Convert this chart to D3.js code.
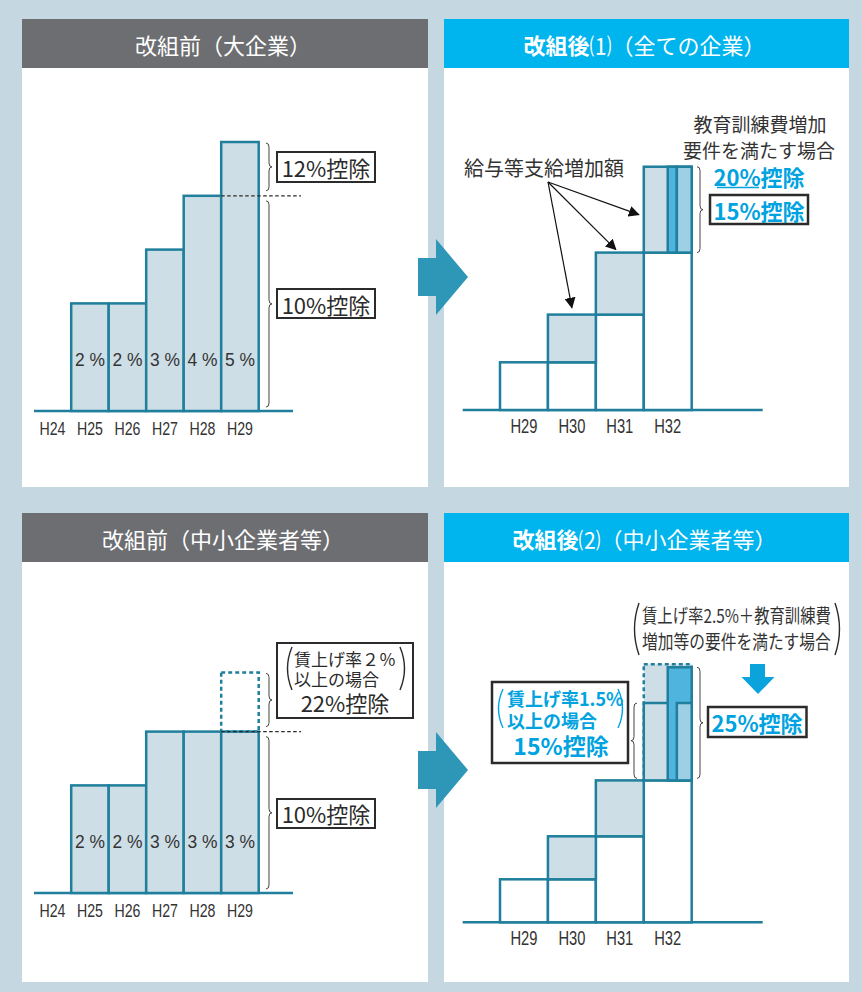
<!DOCTYPE html>
<html>
<head>
<meta charset="utf-8">
<script src="https://cdn.jsdelivr.net/npm/d3@7"></script>
<style>
  html, body { margin: 0; padding: 0; background: #c5d8e1; }
  svg { display: block; font-family: "Noto Sans CJK JP", "Noto Sans", sans-serif; }
</style>
</head>
<body>
<svg id="chart"></svg>
<script>
// ---- data ----
const beforeYears = ["H24", "H25", "H26", "H27", "H28", "H29"];
const largeRates = [0, 2, 2, 3, 4, 5];      // 改組前（大企業）
const smallRates = [0, 2, 2, 3, 3, 3];      // 改組前（中小企業者等）
const smallBonusTop = 4.1;                  // dashed 22% box on H29
const afterYears = ["H29", "H30", "H31", "H32"];
const afterLevels = [1, 2, 3.3, 5.1];       // wage level, each year
const afterSmallTop = 6.0;                  // dashed box on H32 (中小)

const W = 862, H = 992;
const teal = "#1f7f9c";
const fillLight = "#cddee6";
const stripDark = "#4fb5de";
const stripLight = "#9dcfe5";
const cyan = "#00a3df";
const ink = "#2b2b2b";

const svg = d3.select("#chart")
  .attr("width", W)
  .attr("height", H)
  .attr("viewBox", [0, 0, W, H]);

svg.append("rect").attr("width", W).attr("height", H).attr("fill", "#c5d8e1");

// ---- panels + headers ----
const panels = [
  { x: 22, y: 19, w: 406, h: 468, col: "#6d6e71", parts: [["改組前（大企業）", "normal"]] },
  { x: 444, y: 19, w: 405, h: 468, col: "#00b4ed", parts: [["改組後", "bold"], ["⑴", "normal"], ["（全ての企業）", "normal"]] },
  { x: 22, y: 513, w: 406, h: 469, col: "#6d6e71", parts: [["改組前（中小企業者等）", "normal"]] },
  { x: 444, y: 513, w: 405, h: 469, col: "#00b4ed", parts: [["改組後", "bold"], ["⑵", "normal"], ["（中小企業者等）", "normal"]] }
];

panels.forEach((p) => {
  svg.append("rect").attr("x", p.x).attr("y", p.y).attr("width", p.w).attr("height", p.h).attr("fill", "#fff");
  svg.append("rect").attr("x", p.x).attr("y", p.y).attr("width", p.w).attr("height", 49).attr("fill", p.col);
  const t = svg.append("text")
    .attr("x", p.x + p.w / 2 - 2)
    .attr("y", p.y + 25)
    .attr("text-anchor", "middle")
    .attr("dominant-baseline", "central")
    .attr("font-size", 22)
    .attr("fill", "#fff");
  p.parts.forEach(([s, wgt]) => t.append("tspan").attr("font-weight", wgt).text(s));
});

// big arrows between panels
[277, 770].forEach((cy) => {
  svg.append("path")
    .attr("d", `M418,${cy - 19}H436V${cy - 38}L468,${cy}L436,${cy + 38}V${cy + 19}H418Z`)
    .attr("fill", "#2e97b8");
});

// ---- helpers ----
function brace(g, x, y0, y1, dir = 1) {
  const w = 6 * dir, r = 4, ym = (y0 + y1) / 2;
  g.append("path")
    .attr("d",
      `M${x},${y0}Q${x + w / 2},${y0} ${x + w / 2},${y0 + r}` +
      `L${x + w / 2},${ym - r}Q${x + w / 2},${ym} ${x + w},${ym}` +
      `Q${x + w / 2},${ym} ${x + w / 2},${ym + r}` +
      `L${x + w / 2},${y1 - r}Q${x + w / 2},${y1} ${x},${y1}`)
    .attr("fill", "none").attr("stroke", "#444").attr("stroke-width", 1);
}

function paren(g, x, y0, y1, dir, col) {
  g.append("path")
    .attr("d", `M${x},${y0}Q${x + dir * 9},${(y0 + y1) / 2} ${x},${y1}`)
    .attr("fill", "none").attr("stroke", col).attr("stroke-width", 1.4);
}

function box(g, x, y, w, h, sw = 2) {
  g.append("rect").attr("x", x).attr("y", y).attr("width", w).attr("height", h)
    .attr("fill", "#fff").attr("stroke", ink).attr("stroke-width", sw);
}

function label(g, x, y, s, o = {}) {
  const t = g.append("text")
    .attr("x", x).attr("y", y)
    .attr("text-anchor", o.anchor || "middle")
    .attr("dominant-baseline", "central")
    .attr("font-size", o.size || 20)
    .attr("font-weight", o.weight || "normal")
    .attr("fill", o.fill || ink)
    .text(s);
  if (o.len) {
    // condensed type: squeeze horizontally around the anchor point
    const w = t.node().getComputedTextLength();
    const k = Math.min(1, o.len / w);
    t.attr("transform", `translate(${x},${y}) scale(${k},1) translate(${-x},${-y})`);
  }
  return t;
}

// ---- 改組前 charts ----
function drawBefore(base, rates, withBonus) {
  const g = svg.append("g");
  const x = d3.scaleBand().domain(beforeYears).range([33.7, 258.7]);
  const y = d3.scaleLinear().domain([0, 5]).range([base, base - 269]);
  const bw = x.bandwidth();
  const rows = beforeYears.map((k, i) => ({ k, v: rates[i] })).filter((d) => d.v > 0);

  g.append("line").attr("x1", 34).attr("x2", 293).attr("y1", base).attr("y2", base)
    .attr("stroke", teal).attr("stroke-width", 2.5);

  g.selectAll("rect.bar").data(rows).join("rect")
    .attr("class", "bar")
    .attr("x", (d) => x(d.k))
    .attr("y", (d) => y(d.v))
    .attr("width", bw)
    .attr("height", (d) => y(0) - y(d.v))
    .attr("fill", fillLight)
    .attr("stroke", teal)
    .attr("stroke-width", 2.5);

  g.selectAll("text.pct").data(rows).join("text")
    .attr("class", "pct")
    .attr("x", (d) => x(d.k) + bw / 2)
    .attr("y", y(0.95))
    .attr("text-anchor", "middle")
    .attr("dominant-baseline", "central")
    .attr("font-family", "'Liberation Sans', Arial, sans-serif")
    .attr("font-size", 18.5)
    .attr("fill", "#333")
    .attr("textLength", 30)
    .attr("lengthAdjust", "spacingAndGlyphs")
    .text((d) => `${d.v} %`);

  const ax = g.append("g")
    .attr("transform", `translate(0,${base})`)
    .call(d3.axisBottom(x).tickSize(0).tickPadding(11));
  ax.select(".domain").remove();
  ax.selectAll("text")
    .attr("font-family", "'Liberation Sans', Arial, sans-serif")
    .attr("font-size", 18.5)
    .attr("fill", "#333")
    .attr("textLength", 26)
    .attr("lengthAdjust", "spacingAndGlyphs");

  const last = beforeYears[beforeYears.length - 1];
  const top = rates[rates.length - 1];
  const prev = rates[rates.length - 2];
  const cut = withBonus ? top : prev;

  if (withBonus) {
    g.append("rect")
      .attr("x", x(last)).attr("y", y(smallBonusTop))
      .attr("width", bw).attr("height", y(top) - y(smallBonusTop))
      .attr("fill", "none").attr("stroke", teal).attr("stroke-width", 2.5)
      .attr("stroke-dasharray", "4,3");
  }

  g.append("line")
    .attr("x1", x(last)).attr("x2", 301).attr("y1", y(cut)).attr("y2", y(cut))
    .attr("stroke", ink).attr("stroke-width", 1.2).attr("stroke-dasharray", "3.5,2.5");

  const upTop = withBonus ? y(smallBonusTop) : y(top);
  brace(g, 266, upTop + 1, y(cut) - 5);
  brace(g, 266, y(cut) + 5, base - 4);
  return { g, y, cut };
}

const bl = drawBefore(411, largeRates, false);
box(bl.g, 277, 152, 98, 30);
label(bl.g, 326, 167, "12%控除", { size: 22 });
box(bl.g, 277, 289, 98, 29);
label(bl.g, 326, 304, "10%控除", { size: 22 });

const bs = drawBefore(893, smallRates, true);
box(bs.g, 277, 643, 136, 75);
paren(bs.g, 292, 647, 690, -1, ink);
paren(bs.g, 400, 647, 690, 1, ink);
label(bs.g, 294, 658, "賃上げ率２％", { anchor: "start", size: 17 });
label(bs.g, 294, 678, "以上の場合", { anchor: "start", size: 17 });
label(bs.g, 345, 702, "22%控除", { size: 22 });
box(bs.g, 277, 799, 98, 29);
label(bs.g, 326, 813, "10%控除", { size: 22 });

// ---- 改組後 charts ----
function drawAfter(base, unit, small) {
  const g = svg.append("g");
  const x = d3.scaleBand().domain(afterYears).range([500, 691.7]);
  const y = d3.scaleLinear().domain([0, 5.1]).range([base, base - unit * 5.1]);
  const bw = x.bandwidth();
  const rows = afterYears.map((k, i) => ({
    k, lo: i === 0 ? afterLevels[0] : afterLevels[i - 1], hi: afterLevels[i]
  }));
  const last = afterYears[afterYears.length - 1];
  const n = afterLevels.length;

  g.append("line").attr("x1", 462.7).attr("x2", 762.7).attr("y1", base).attr("y2", base)
    .attr("stroke", teal).attr("stroke-width", 2.5);

  if (small) {
    g.append("rect")
      .attr("x", x(last)).attr("y", y(afterSmallTop))
      .attr("width", bw).attr("height", y(afterLevels[n - 2]) - y(afterSmallTop))
      .attr("fill", fillLight).attr("stroke", teal).attr("stroke-width", 2.5)
      .attr("stroke-dasharray", "4,3");
  }

  // white part: previous year's level
  g.selectAll("rect.base").data(rows).join("rect")
    .attr("class", "base")
    .attr("x", (d) => x(d.k)).attr("y", (d) => y(d.lo))
    .attr("width", bw).attr("height", (d) => y(0) - y(d.lo))
    .attr("fill", "#fff").attr("stroke", teal).attr("stroke-width", 2.5);

  // shaded part: increase over previous year
  g.selectAll("rect.inc").data(rows.filter((d) => d.hi > d.lo)).join("rect")
    .attr("class", "inc")
    .attr("x", (d) => x(d.k)).attr("y", (d) => y(d.hi))
    .attr("width", bw).attr("height", (d) => y(d.lo) - y(d.hi))
    .attr("fill", fillLight).attr("stroke", teal).attr("stroke-width", 2.5);

  const x0 = x(last), lo = afterLevels[n - 2], hi = afterLevels[n - 1];
  if (small) {
    g.append("rect")
      .attr("x", x0 + bw * 0.5).attr("y", y(afterSmallTop) + 3)
      .attr("width", bw * 0.5).attr("height", y(lo) - y(afterSmallTop) - 3)
      .attr("fill", stripDark).attr("stroke", teal).attr("stroke-width", 2.5);
    g.append("rect")
      .attr("x", x0 + bw * 0.69).attr("y", y(hi))
      .attr("width", bw * 0.31).attr("height", y(lo) - y(hi))
      .attr("fill", stripLight).attr("stroke", teal).attr("stroke-width", 2.5);
  } else {
    g.append("rect")
      .attr("x", x0 + bw * 0.5).attr("y", y(hi))
      .attr("width", bw * 0.19).attr("height", y(lo) - y(hi))
      .attr("fill", stripDark).attr("stroke", teal).attr("stroke-width", 2.5);
    g.append("rect")
      .attr("x", x0 + bw * 0.69).attr("y", y(hi))
      .attr("width", bw * 0.31).attr("height", y(lo) - y(hi))
      .attr("fill", stripLight).attr("stroke", teal).attr("stroke-width", 2.5);
  }

  const ax = g.append("g")
    .attr("transform", `translate(0,${base})`)
    .call(d3.axisBottom(x).tickSize(0).tickPadding(9));
  ax.select(".domain").remove();
  ax.selectAll("text")
    .attr("font-family", "'Liberation Sans', Arial, sans-serif")
    .attr("font-size", 19.5)
    .attr("fill", "#333")
    .attr("textLength", 27)
    .attr("lengthAdjust", "spacingAndGlyphs");

  return { g, x, y, bw };
}

// 改組後(1)
const a1 = drawAfter(410, 47.7, false);
{
  const { g, x, y, bw } = a1;
  const n = afterLevels.length;
  brace(g, 697, y(afterLevels[n - 1]), y(afterLevels[n - 2]));
  label(g, 760, 123, "教育訓練費増加", { size: 19, fill: "#333" });
  label(g, 759, 149, "要件を満たす場合", { size: 19, fill: "#333" });
  label(g, 759, 176, "20%控除", { size: 22, weight: "bold", fill: cyan });
  g.append("line").attr("x1", 717).attr("x2", 759).attr("y1", 187.5).attr("y2", 187.5)
    .attr("stroke", cyan).attr("stroke-width", 1.5);
  box(g, 710, 195, 98, 29, 2.5);
  label(g, 759, 210, "15%控除", { size: 22, weight: "bold", fill: cyan });
  label(g, 544, 167, "給与等支給増加額", { size: 20, fill: "#333" });

  const defs = svg.append("defs");
  defs.append("marker")
    .attr("id", "head").attr("viewBox", "0 0 10 10")
    .attr("refX", 9).attr("refY", 5)
    .attr("markerWidth", 11).attr("markerHeight", 11)
    .attr("markerUnits", "userSpaceOnUse")
    .attr("orient", "auto")
    .append("path").attr("d", "M0,0L10,5L0,10Z").attr("fill", "#111");

  const src = [548, 182];
  const tips = [
    [x("H30") + bw / 2, y(afterLevels[1]) - 7],
    [x("H31") - 4 + bw / 2, y(afterLevels[2]) - 3],
    [x("H32") - 5, (y(afterLevels[2]) + y(afterLevels[3])) / 2 + 5]
  ];
  tips.forEach((t) => {
    g.append("line")
      .attr("x1", src[0]).attr("y1", src[1]).attr("x2", t[0]).attr("y2", t[1])
      .attr("stroke", "#111").attr("stroke-width", 1.2)
      .attr("marker-end", "url(#head)");
  });
}

// 改組後(2)
const a2 = drawAfter(922.3, 43, true);
{
  const { g, y } = a2;
  const n = afterLevels.length;
  brace(g, 697, y(afterSmallTop) + 3, y(afterLevels[n - 2]) - 2);
  brace(g, 637, y(afterLevels[n - 1]), y(afterLevels[n - 2]) - 2, -1);

  paren(g, 639, 603, 655, -1, ink);
  paren(g, 835, 603, 655, 1, ink);
  label(g, 642, 615, "賃上げ率2.5%＋教育訓練費", { anchor: "start", size: 19, fill: "#333", len: 189 });
  label(g, 642, 641, "増加等の要件を満たす場合", { anchor: "start", size: 19, fill: "#333", len: 189 });

  g.append("path")
    .attr("d", "M750,664H765V677H774.5L758,694L741.5,677H750Z")
    .attr("fill", "#0aa3dc");

  box(g, 708, 707, 98.5, 30, 2.5);
  label(g, 757, 722, "25%控除", { size: 22, weight: "bold", fill: cyan });

  box(g, 492, 682, 136, 81, 2.5);
  paren(g, 503, 689, 728, -1, cyan);
  paren(g, 618, 689, 728, 1, cyan);
  label(g, 507, 698, "賃上げ率1.5%", { anchor: "start", size: 18, weight: "bold", fill: cyan });
  label(g, 507, 720, "以上の場合", { anchor: "start", size: 18, weight: "bold", fill: cyan });
  label(g, 561, 745, "15%控除", { size: 23, weight: "bold", fill: cyan });
}
</script>
</body>
</html>
